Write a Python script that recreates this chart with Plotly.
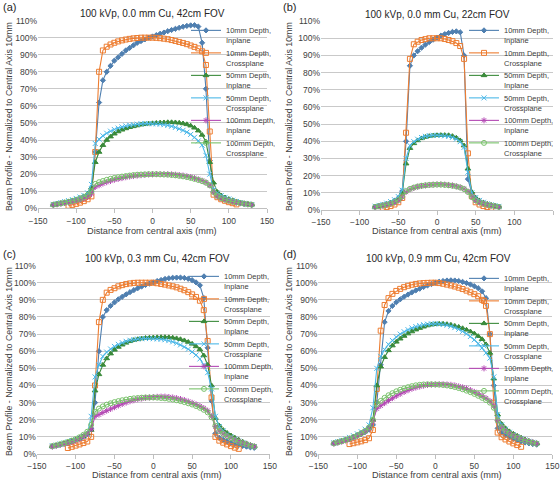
import plotly.graph_objects as go

# ---------------- data (percent of central-axis 10 mm value) ----------------
X_WIDE = list(range(-130, 131, 5))      # 42cm FOV, most series
X_NARROW = list(range(-110, 111, 5))    # 42cm FOV, 10mm crossplane
X_B_WIDE = list(range(-80, 81, 5))      # 22cm FOV
X_B_NARROW = list(range(-70, 71, 5))    # 22cm FOV, 10mm crossplane

A_10_IN = [2.0, 2.4, 2.8, 3.2, 3.6, 4.1, 4.6, 5.3, 6.2, 7.4, 9.5,
           33, 62, 75, 80, 83.5, 86.5, 88.5, 90.5, 92.5, 94, 95.5, 97, 98, 99, 100,
           100.7, 101.5, 102.3, 103, 103.8, 104.5, 105.2, 105.8, 106.4, 106.9, 107.2, 107.3, 106.5, 97, 70, 28,
           10, 7.5, 6.3, 5.4, 4.6, 4.0, 3.5, 3.0, 2.6, 2.3, 2.0]
A_10_CR = [1.5, 2.0, 2.6, 3.3, 4.2, 5.3, 7.0,
           33, 80, 92.5, 94.7, 96, 97, 97.8, 98.4, 98.9, 99.3, 99.6, 99.8, 100, 100, 100,
           100, 99.9, 99.7, 99.4, 99.1, 98.6, 98.1, 97.5, 96.9, 96.2, 95.4, 94.6, 93.7, 92, 84, 45,
           8, 6.5, 5.3, 4.4, 3.6, 3.0, 2.3]
A_50_IN = [2.0, 2.5, 3.0, 3.5, 4.0, 4.6, 5.2, 6.0, 7.0, 8.5, 12,
           27, 33, 37, 40, 42, 43.7, 45, 46, 46.8, 47.5, 48, 48.5, 49, 49.3, 49.6,
           49.8, 50, 50.2, 50.3, 50.4, 50.4, 50.3, 50.1, 49.7, 49.2, 48.4, 47.2, 45.5, 43, 39, 27,
           15, 9.5, 7.5, 6.3, 5.4, 4.7, 4.0, 3.4, 2.9, 2.5, 2.1]
A_50_CR = [2.3, 2.8, 3.3, 3.9, 4.5, 5.1, 5.8, 6.6, 7.6, 9.0, 14,
           38, 40.5, 42.5, 44, 45.2, 46.2, 47, 47.7, 48.3, 48.7, 49, 49.3, 49.5, 49.6, 49.6,
           49.5, 49.5, 49.3, 49, 48.6, 48.1, 47.4, 46.6, 45.7, 44.6, 43.3, 41.6, 39.5, 37, 31, 20,
           11, 9, 7.5, 6.4, 5.5, 4.7, 4.0, 3.4, 2.9, 2.5, 2.2]
A_100_IN = [2.0, 2.3, 2.7, 3.1, 3.5, 4.0, 4.5, 5.1, 5.8, 6.8, 8.5,
            12.5, 13.5, 14.5, 15.3, 16, 16.7, 17.2, 17.7, 18.2, 18.6, 18.9, 19.2, 19.4, 19.6, 19.8,
            19.9, 20, 20, 20, 20, 19.9, 19.7, 19.5, 19.2, 18.8, 18.3, 17.7, 17, 16.2, 15.2, 13.5,
            9.5, 7.0, 5.8, 5.0, 4.4, 3.9, 3.4, 3.0, 2.6, 2.3, 2.0]
A_100_CR = [2.1, 2.5, 2.9, 3.3, 3.8, 4.3, 4.9, 5.6, 6.5, 7.8, 10,
            14.3, 15.3, 16, 16.7, 17.3, 17.8, 18.2, 18.6, 18.9, 19.2, 19.5, 19.7, 19.8, 19.9, 20,
            20, 20, 19.9, 19.8, 19.7, 19.5, 19.3, 19, 18.7, 18.3, 17.8, 17.2, 16.6, 15.9, 15, 13.5,
            9.5, 7.3, 6.0, 5.1, 4.5, 3.9, 3.5, 3.1, 2.7, 2.4, 2.1]

B_10_IN = [1.8, 2.3, 2.8, 3.4, 4.2, 5.3, 7.0, 11,
           40, 84, 90, 92.5, 94.5, 96.3, 97.8, 99.2,
           100.4,
           101.5, 102.4, 103.1, 103.7, 104, 103.5, 90, 18,
           10, 7, 5.3, 4.2, 3.4, 2.8, 2.3, 1.8]
B_10_CR = [1.3, 1.7, 2.3, 3.2, 4.5, 7,
           45, 88, 96.5, 98, 99, 99.5, 100, 100,
           100,
           100, 99.6, 99, 98.3, 97.2, 95.5, 88, 33,
           8, 4.5, 3.2, 2.3, 1.7, 1.3]
B_50_IN = [1.8, 2.2, 2.7, 3.3, 4.0, 5.0, 6.5, 10,
           27, 36, 38.8, 40.5, 41.7, 42.5, 43, 43.3,
           43.5,
           43.6, 43.6, 43.5, 43, 42, 40.5, 37.5, 24,
           10.5, 7, 5.3, 4.2, 3.4, 2.8, 2.3, 1.9]
B_50_CR = [2.2, 2.7, 3.3, 4.0, 4.9, 6.0, 7.8, 11.5,
           30, 37.5, 39.8, 41.2, 42.2, 42.9, 43.3, 43.5,
           43.5,
           43.4, 43.2, 42.9, 42.3, 41.3, 39.8, 36.5, 22,
           10, 7.2, 5.6, 4.5, 3.6, 3.0, 2.5, 2.1]
B_100_IN = [1.7, 2.1, 2.5, 3.0, 3.6, 4.4, 5.5, 7.5,
            10.5, 12, 12.8, 13.5, 14, 14.3, 14.6, 14.8,
            14.9,
            14.9, 14.8, 14.6, 14.3, 13.8, 13.2, 12.3, 10.8,
            7.8, 5.5, 4.4, 3.6, 3.0, 2.5, 2.1, 1.7]
B_100_CR = [1.8, 2.2, 2.6, 3.1, 3.8, 4.6, 5.8, 8,
            11, 12.3, 13.1, 13.7, 14.1, 14.4, 14.6, 14.7,
            14.8,
            14.8, 14.6, 14.4, 14.1, 13.7, 13.1, 12.2, 10.5,
            7.5, 5.6, 4.5, 3.7, 3.1, 2.6, 2.2, 1.8]

C_10_IN = [4.4, 4.9, 5.4, 6.0, 6.6, 7.3, 8.1, 9.0, 10.2, 11.8, 15,
           30, 60, 80, 84, 86.5, 88.5, 90.3, 91.8, 93.2, 94.5, 95.7, 96.8, 97.8, 98.7, 99.5,
           100.2, 101, 101.6, 102.2, 102.6, 102.9, 103, 103, 102.8, 102.3, 101.5, 100.2, 98.5, 91, 62, 31,
           12, 9.5, 8.3, 7.3, 6.5, 5.8, 5.2, 4.7, 4.3, 3.9, 3.6]
C_10_CR = [3.5, 4.2, 4.9, 5.6, 6.4, 7.3, 10,
           40, 77, 90, 94.2, 95.8, 96.8, 97.9, 98.6, 99.2, 99.6, 99.9, 100, 100, 100, 100,
           100, 99.7, 99.3, 98.9, 98.4, 97.9, 97.3, 96.5, 95.6, 94.5, 93.2, 91.7, 89.5, 84, 66, 33,
           10, 7.8, 6.6, 5.6, 4.6, 3.7, 3.0]
C_50_IN = [4.5, 5.0, 5.6, 6.2, 6.9, 7.6, 8.4, 9.3, 10.4, 11.8, 14,
           37, 46.5, 52, 55.8, 58.6, 60.8, 62.5, 63.8, 64.9, 65.8, 66.5, 67, 67.4, 67.7, 67.9,
           68, 68.1, 68.2, 68.2, 68.1, 67.9, 67.5, 67, 66.3, 65.4, 64.3, 62.8, 61, 57.5, 52, 40,
           21, 16.5, 14, 12.3, 10.8, 9.5, 8.3, 7.2, 6.2, 5.2, 4.5]
C_50_CR = [4.8, 5.2, 5.8, 6.4, 7.0, 7.7, 8.4, 9.2, 10.3, 11.5, 22,
           45, 52, 57, 59.5, 61.3, 62.8, 64, 65, 65.8, 66.4, 66.8, 67.1, 67.3, 67.4, 67.4,
           67.3, 67.2, 67, 66.7, 66.2, 65.5, 64.7, 63.7, 62.5, 61.2, 59.6, 57.8, 55.5, 52, 47.5, 38,
           22, 16, 13.5, 11.5, 10, 8.7, 7.5, 6.5, 5.6, 4.9, 4.3]
C_100_IN = [4.3, 4.8, 5.3, 5.9, 6.5, 7.2, 8.0, 9.0, 10.2, 11.8, 14.5,
            22, 23, 24.2, 25.3, 26.3, 27.3, 28.3, 29.2, 30, 30.8, 31.4, 32, 32.4, 32.8, 33,
            33.2, 33.4, 33.5, 33.5, 33.3, 33, 32.6, 32.1, 31.5, 30.7, 29.9, 29, 28, 26.8, 25.3, 22,
            16, 13.5, 11.8, 10.5, 9.3, 8.3, 7.4, 6.5, 5.7, 5.0, 4.4]
C_100_CR = [4.6, 5.1, 5.7, 6.3, 7.0, 7.8, 8.7, 9.8, 11.2, 13, 17,
            24.5, 26.5, 27.8, 28.8, 29.6, 30.3, 30.9, 31.4, 31.8, 32.2, 32.5, 32.7, 32.9, 33, 33,
            33, 32.9, 32.7, 32.5, 32.2, 31.8, 31.4, 30.9, 30.3, 29.6, 28.9, 28, 27, 25.8, 24.3, 21.5,
            16.5, 13.5, 11.8, 10.4, 9.2, 8.1, 7.2, 6.3, 5.6, 4.9, 4.3]

D_10_IN = [6.3, 6.9, 7.5, 8.2, 8.9, 9.7, 10.6, 11.6, 12.8, 14.2, 17,
           30, 52, 77, 83.5, 86.5, 88.6, 90.3, 91.8, 93.1, 94.4, 95.5, 96.5, 97.5, 98.4, 99.2,
           100, 100.6, 101, 101.3, 101.4, 101.3, 101, 100.5, 99.8, 99, 98, 96.8, 95, 91, 70, 40,
           15, 12.5, 11, 9.8, 8.8, 8.0, 7.3, 6.7, 6.2, 5.8, 5.5]
D_10_CR = [5.8, 6.3, 6.8, 7.4, 8.1, 9.2, 14,
           38, 72, 87, 91, 93.5, 95.2, 96.4, 97.4, 98.2, 98.8, 99.3, 99.6, 99.8, 99.9, 100,
           100, 99.8, 99.4, 98.9, 98.4, 97.8, 97.1, 96.3, 95.4, 94.4, 93.3, 92.1, 90, 86.5, 70, 30,
           12.5, 9.8, 8.5, 7.3, 6.2, 5.2, 4.2]
D_50_IN = [6.3, 6.9, 7.6, 8.3, 9.1, 10, 11, 12.2, 13.6, 15.5, 20,
           40, 51, 56.5, 60.5, 63.3, 65.5, 67.3, 68.9, 70.3, 71.5, 72.6, 73.5, 74.3, 75, 75.5,
           75.8, 76, 76, 75.8, 75.4, 74.8, 74.2, 73.4, 72.5, 71.5, 70.3, 68.8, 67, 64, 59, 44,
           23, 17.5, 15, 13.2, 11.8, 10.6, 9.5, 8.5, 7.6, 6.9, 6.3]
D_50_CR = [6.5, 7.2, 8.0, 8.8, 9.7, 10.7, 11.8, 13, 14.5, 17, 27,
           50, 57, 61, 64, 66.3, 68.3, 70, 71.4, 72.6, 73.6, 74.4, 75, 75.5, 75.8, 76,
           76, 75.9, 75.6, 75.2, 74.6, 73.8, 72.8, 71.6, 70.2, 68.6, 66.7, 64.5, 62, 59, 56, 45,
           23, 17, 14.5, 12.7, 11.3, 10.1, 9.1, 8.2, 7.4, 6.8, 6.2]
D_100_IN = [6.0, 6.6, 7.2, 7.9, 8.7, 9.6, 10.6, 11.8, 13.2, 15, 19,
            26.5, 28.2, 29.7, 31.2, 32.6, 33.9, 35.1, 36.2, 37.2, 38.1, 38.8, 39.4, 39.9, 40.3, 40.5,
            40.6, 40.7, 40.7, 40.6, 40.4, 40, 39.5, 38.9, 38.2, 37.3, 36.3, 35.2, 34, 32.6, 31, 28,
            19.5, 15.5, 13.5, 12, 10.8, 9.7, 8.8, 8, 7.3, 6.7, 6.1]
D_100_CR = [6.2, 6.8, 7.5, 8.2, 9.0, 9.9, 10.9, 12.1, 13.5, 15.5, 20,
            29, 31, 32.8, 34.3, 35.5, 36.6, 37.5, 38.3, 39, 39.6, 40.1, 40.4, 40.6, 40.7, 40.7,
            40.6, 40.5, 40.3, 40, 39.6, 39.1, 38.5, 37.8, 37, 36.1, 35.1, 34, 32.8, 31.5, 30, 27,
            19.5, 15.5, 13.4, 11.9, 10.6, 9.5, 8.6, 7.8, 7.1, 6.5, 6.0]

SERIES_NAMES = ["10mm Depth,<br>Inplane", "10mm Depth,<br>Crossplane",
                "50mm Depth,<br>Inplane", "50mm Depth,<br>Crossplane",
                "100mm Depth,<br>Inplane", "100mm Depth,<br>Crossplane"]
PANEL_TITLES = ["100 kVp, 0.0 mm Cu, 42cm FOV", "100 kVp, 0.0 mm Cu, 22cm FOV",
                "100 kVp, 0.3 mm Cu, 42cm FOV", "100 kVp, 0.9 mm Cu, 42cm FOV"]
PANEL_LETTERS = ["(a)", "(b)", "(c)", "(d)"]
X_TICKS = [-150, -100, -50, 0, 50, 100, 150]
Y_TICKS = list(range(0, 111, 10))
Y_TICK_TEXT = [f"{v}%" for v in Y_TICKS]
Y_TITLE = "Beam Profile - Normalized to Central Axis 10mm"
X_TITLE = "Distance from central axis (mm)"

PANEL_X = [
    [X_WIDE, X_NARROW, X_WIDE, X_WIDE, X_WIDE, X_WIDE],
    [X_B_WIDE, X_B_NARROW, X_B_WIDE, X_B_WIDE, X_B_WIDE, X_B_WIDE],
    [X_WIDE, X_NARROW, X_WIDE, X_WIDE, X_WIDE, X_WIDE],
    [X_WIDE, X_NARROW, X_WIDE, X_WIDE, X_WIDE, X_WIDE],
]
PANEL_Y = [
    [A_10_IN, A_10_CR, A_50_IN, A_50_CR, A_100_IN, A_100_CR],
    [B_10_IN, B_10_CR, B_50_IN, B_50_CR, B_100_IN, B_100_CR],
    [C_10_IN, C_10_CR, C_50_IN, C_50_CR, C_100_IN, C_100_CR],
    [D_10_IN, D_10_CR, D_50_IN, D_50_CR, D_100_IN, D_100_CR],
]

# ---------------- styles ----------------
W, H = 560, 481
FONT = "Liberation Sans, Arial, sans-serif"
TXT = "#404040"
COLORS = ["#4f7fb0", "#ed7d31", "#3a8a3a", "#4cb8e8", "#b348b3", "#78c26a"]
SYMBOLS = ["diamond", "square-open", "triangle-up", "x-thin-open", "asterisk-open", "circle-open"]
SIZES = [4, 5, 5, 5, 5, 5]

# plot-area pixel boxes (left, right, top, bottom)
BOXES = [(38, 267, 20.6, 208.3), (321, 553, 21.1, 210),
         (36.8, 269.8, 265.6, 454), (318.3, 552.3, 265.6, 454)]
LEGEND_POS = [(186, 19), (464, 19), (184, 265), (464, 267)]
TITLE_POS = [(152, 13.5), (437, 14), (157, 258), (438, 258)]
LETTER_POS = [(1, 7), (281, 7), (1, 254), (281, 254)]
XTITLE_POS = [(152, 231), (437, 231), (157, 475), (437, 475)]
YTITLE_POS = [(9, 117), (289, 117), (9, 362), (289, 362)]

def px(x):
    return x / W

def py(y):
    return 1 - y / H

fig = go.Figure()
layout = dict(
    width=W, height=H,
    margin=dict(l=0, r=0, t=0, b=0, autoexpand=False),
    paper_bgcolor="white", plot_bgcolor="white",
    font=dict(family=FONT, color=TXT, size=9),
    annotations=[],
)

for p in range(4):
    suffix = "" if p == 0 else str(p + 1)
    legend_id = "legend" if p == 0 else "legend" + str(p + 1)
    for s in range(6):
        fig.add_trace(go.Scatter(
            x=PANEL_X[p][s], y=PANEL_Y[p][s],
            mode="lines+markers",
            name=SERIES_NAMES[s],
            line=dict(color=COLORS[s], width=1.1),
            marker=dict(symbol=SYMBOLS[s], size=SIZES[s], color=COLORS[s],
                        line=dict(color=COLORS[s], width=1)),
            xaxis="x" + suffix, yaxis="y" + suffix,
            legend=legend_id,
        ))
    l, r, t, b = BOXES[p]
    layout["xaxis" + suffix] = dict(
        domain=[px(l), px(r)], anchor="y" + suffix, range=[-150, 150],
        tickvals=X_TICKS, showgrid=False, zeroline=False,
        showline=True, linecolor="#bfbfbf", linewidth=1,
        ticks="outside", ticklen=4, tickcolor="#bfbfbf",
        tickfont=dict(size=8.5, color=TXT, family=FONT),
    )
    layout["yaxis" + suffix] = dict(
        domain=[py(b), py(t)], anchor="x" + suffix, range=[0, 110],
        tickvals=Y_TICKS, ticktext=Y_TICK_TEXT, showgrid=True,
        gridcolor="#c9c9c9", gridwidth=1.3, zeroline=False, showline=False,
        tickfont=dict(size=8.5, color=TXT, family=FONT),
    )
    lx, ly = LEGEND_POS[p]
    layout[legend_id] = dict(
        x=px(lx), y=py(ly), xanchor="left", yanchor="top",
        bgcolor="rgba(255,255,255,0)", borderwidth=0,
        font=dict(size=7.5, color=TXT, family=FONT),
        valign="top", tracegroupgap=0,
    )
    tx, ty = TITLE_POS[p]
    layout["annotations"].append(dict(
        text=PANEL_TITLES[p], x=px(tx), y=py(ty), xref="paper", yref="paper",
        xanchor="center", yanchor="middle", showarrow=False,
        font=dict(size=10, color="#262626", family=FONT)))
    lx2, ly2 = LETTER_POS[p]
    layout["annotations"].append(dict(
        text=PANEL_LETTERS[p], x=px(lx2), y=py(ly2), xref="paper", yref="paper",
        xanchor="left", yanchor="middle", showarrow=False,
        font=dict(size=11, color="#262626", family=FONT)))
    xx, xy = XTITLE_POS[p]
    layout["annotations"].append(dict(
        text=X_TITLE, x=px(xx), y=py(xy), xref="paper", yref="paper",
        xanchor="center", yanchor="middle", showarrow=False,
        font=dict(size=9.2, color=TXT, family=FONT)))
    yx, yy = YTITLE_POS[p]
    layout["annotations"].append(dict(
        text=Y_TITLE, x=px(yx), y=py(yy), xref="paper", yref="paper",
        xanchor="center", yanchor="middle", showarrow=False, textangle=-90,
        font=dict(size=8.8, color=TXT, family=FONT)))

fig.update_layout(**layout)
fig.write_html("out.html")
